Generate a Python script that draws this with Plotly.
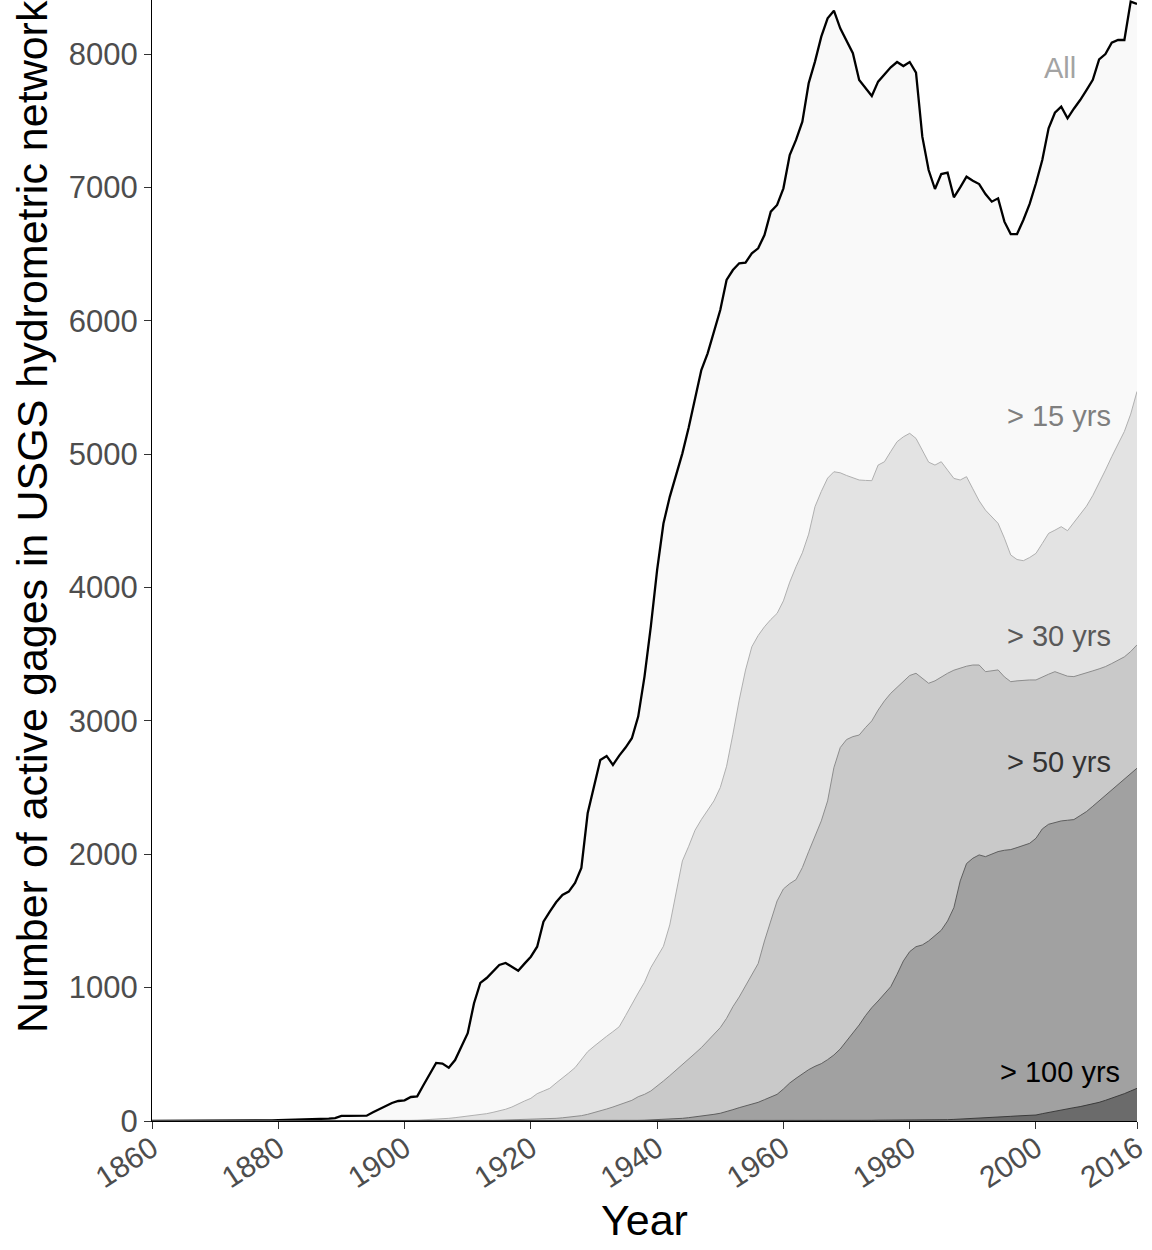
import plotly.graph_objects as go

years = list(range(1860, 2017))

all_gages = [
    0, 0, 0, 0, 0, 1, 1, 1, 1, 1,
    2, 2, 2, 3, 3, 3, 4, 4, 5, 5,
    6, 7, 8, 9, 10, 12, 14, 16, 18, 22,
    38, 38, 40, 40, 40, 65, 90, 115, 135, 150,
    155, 180, 185, 270, 350, 435, 430, 400, 457, 560,
    658, 883, 1035, 1072, 1120, 1170, 1185, 1155, 1127, 1180,
    1232, 1307, 1495, 1570, 1640, 1695, 1720, 1785, 1897, 2307,
    2507, 2707, 2737, 2670, 2740, 2800, 2870, 3032, 3332, 3707,
    4132, 4480, 4680, 4850, 5006, 5200, 5406, 5631, 5756, 5920,
    6081, 6306, 6380, 6431, 6436, 6506, 6543, 6643, 6818, 6868,
    6993, 7243, 7356, 7493, 7781, 7943, 8130, 8268, 8325, 8193,
    8100, 8006, 7806, 7745, 7685, 7793, 7850, 7900, 7940, 7910,
    7940, 7860, 7380, 7130, 6988, 7100, 7110, 6926, 7000, 7080,
    7050, 7025, 6950, 6893, 6918, 6743, 6650, 6650, 6756, 6876,
    7031, 7205, 7443, 7560, 7605, 7518, 7590, 7655, 7730, 7806,
    7960, 8000, 8085, 8105, 8105, 8393, 8375,
]

over_15 = [
    0, 0, 0, 0, 0, 0, 0, 0, 0, 0,
    0, 0, 0, 0, 0, 0, 0, 0, 0, 0,
    0, 0, 0, 0, 0, 0, 0, 0, 0, 0,
    0, 0, 0, 0, 0, 1, 1, 2, 2, 3,
    4, 5, 6, 8, 10, 13, 16, 20, 25, 30,
    35, 40, 45, 55, 65, 75, 88, 105, 130, 150,
    170, 205, 225, 245, 285, 320, 360, 400, 460, 520,
    560, 600, 635, 670, 707, 790, 880, 960, 1040, 1150,
    1230, 1310, 1470, 1700, 1950, 2060, 2180, 2260, 2330, 2400,
    2500, 2660, 2900, 3156, 3381, 3556, 3640, 3706, 3760, 3806,
    3900, 4040, 4156, 4260, 4400, 4606, 4720, 4820, 4868, 4860,
    4840, 4820, 4806, 4803, 4801, 4918, 4943, 5020, 5093, 5130,
    5156, 5118, 5030, 4940, 4918, 4943, 4880, 4818, 4806, 4831,
    4740, 4650, 4580, 4530, 4481, 4370, 4244, 4210, 4201, 4225,
    4256, 4330, 4406, 4430, 4456, 4426, 4490, 4550, 4610, 4690,
    4780, 4880, 4981, 5080, 5170, 5300, 5470,
]

over_30 = [
    0, 0, 0, 0, 0, 0, 0, 0, 0, 0,
    0, 0, 0, 0, 0, 0, 0, 0, 0, 0,
    0, 0, 0, 0, 0, 0, 0, 0, 0, 0,
    0, 0, 0, 0, 0, 0, 0, 0, 0, 0,
    0, 0, 0, 0, 0, 1, 1, 1, 2, 2,
    3, 3, 4, 4, 5, 6, 7, 8, 9, 10,
    12, 14, 16, 18, 20, 24, 28, 32, 40, 50,
    62, 75, 90, 105, 120, 135, 155, 182, 200, 225,
    260, 300, 340, 380, 420, 465, 507, 550, 600, 650,
    700, 770, 857, 930, 1010, 1100, 1180, 1350, 1500, 1650,
    1740, 1780, 1810, 1900, 2020, 2130, 2250, 2400, 2650, 2800,
    2860, 2882, 2894, 2950, 3000, 3081, 3150, 3207, 3250, 3300,
    3340, 3357, 3320, 3282, 3300, 3330, 3357, 3380, 3395, 3410,
    3419, 3419, 3369, 3375, 3382, 3330, 3294, 3300, 3305, 3307,
    3307, 3330, 3350, 3369, 3350, 3335, 3332, 3345, 3360, 3375,
    3390, 3407, 3430, 3455, 3480, 3520, 3570,
]

over_50 = [
    0, 0, 0, 0, 0, 0, 0, 0, 0, 0,
    0, 0, 0, 0, 0, 0, 0, 0, 0, 0,
    0, 0, 0, 0, 0, 0, 0, 0, 0, 0,
    0, 0, 0, 0, 0, 0, 0, 0, 0, 0,
    0, 0, 0, 0, 0, 0, 0, 0, 0, 0,
    0, 0, 0, 0, 0, 0, 0, 0, 0, 0,
    0, 0, 0, 0, 0, 0, 0, 0, 0, 0,
    1, 1, 2, 2, 3, 3, 4, 5, 6, 8,
    9, 11, 13, 16, 20, 25, 30, 36, 42, 50,
    58, 70, 85, 100, 112, 125, 140, 160, 180, 200,
    240, 285, 320, 355, 385, 410, 430, 460, 495, 540,
    600, 660, 720, 790, 850, 900, 950, 1007, 1100, 1200,
    1270, 1307, 1320, 1350, 1390, 1430, 1500, 1600, 1800, 1930,
    1970, 1995, 1982, 2000, 2020, 2030, 2035, 2050, 2065, 2082,
    2120, 2190, 2225, 2240, 2250, 2255, 2260, 2290, 2320, 2360,
    2400, 2440, 2480, 2520, 2560, 2600, 2645,
]

over_100 = [
    0, 0, 0, 0, 0, 0, 0, 0, 0, 0,
    0, 0, 0, 0, 0, 0, 0, 0, 0, 0,
    0, 0, 0, 0, 0, 0, 0, 0, 0, 0,
    0, 0, 0, 0, 0, 0, 0, 0, 0, 0,
    0, 0, 0, 0, 0, 0, 0, 0, 0, 0,
    0, 0, 0, 0, 0, 0, 0, 0, 0, 0,
    0, 0, 0, 0, 0, 0, 0, 0, 0, 0,
    0, 0, 0, 0, 0, 0, 0, 0, 0, 0,
    0, 0, 0, 0, 0, 0, 0, 0, 0, 0,
    0, 0, 0, 0, 0, 0, 0, 0, 0, 0,
    1, 1, 1, 2, 2, 2, 3, 3, 3, 4,
    4, 4, 5, 5, 5, 6, 6, 6, 7, 7,
    7, 7, 8, 8, 8, 9, 10, 12, 14, 16,
    18, 20, 22, 25, 28, 32, 35, 38, 40, 42,
    45, 55, 65, 72, 80, 92, 100, 108, 118, 128,
    140, 155, 170, 185, 205, 225, 245,
]

series_names = ["All", "> 15 yrs", "> 30 yrs", "> 50 yrs", "> 100 yrs"]
series_values = [all_gages, over_15, over_30, over_50, over_100]
fill_colors = ["#F9F9F9", "#E3E3E3", "#C9C9C9", "#A1A1A1", "#6B6B6B"]
line_colors = ["#000000", "#A8A8A8", "#858585", "#555555", "#333333"]
line_widths = [2.3, 0.9, 0.9, 0.9, 0.9]
label_colors = ["#A3A3A3", "#7F7F7F", "#595959", "#333333", "#000000"]
label_y = [7898, 5287, 3637, 2692, 367]
label_x = [2006.6, 2012.2, 2012.2, 2012.2, 2013.6]

x_ticks = [1860, 1880, 1900, 1920, 1940, 1960, 1980, 2000, 2016]
y_ticks = [0, 1000, 2000, 3000, 4000, 5000, 6000, 7000, 8000]

FONT = "Liberation Sans, Arial, sans-serif"

fig = go.Figure()
for name, vals, fc, lc, lw in zip(series_names, series_values, fill_colors, line_colors, line_widths):
    fig.add_trace(go.Scatter(
        x=years, y=vals, mode="lines", name=name,
        fill="tozeroy", fillcolor=fc,
        line=dict(color=lc, width=lw),
        showlegend=False,
    ))

for name, lx, ly, col in zip(series_names, label_x, label_y, label_colors):
    fig.add_annotation(x=lx, y=ly, text=name, showarrow=False,
                       xanchor="right", yanchor="middle",
                       font=dict(family=FONT, size=29, color=col))

fig.add_annotation(xref="paper", yref="paper", x=0.5, y=0, yshift=-99,
                   text="Year", showarrow=False, xanchor="center", yanchor="middle",
                   font=dict(family=FONT, size=43, color="#000000"))
fig.add_annotation(xref="paper", yref="paper", x=0, xshift=-120, y=0.5388,
                   text="Number of active gages in USGS hydrometric network", textangle=-90,
                   showarrow=False, xanchor="center", yanchor="middle",
                   font=dict(family=FONT, size=43, color="#000000"))

y_font = dict(family=FONT, size=31, color="#4D4D4D")
x_font = dict(family=FONT, size=30, color="#4D4D4D")
fig.update_layout(
    width=1152, height=1250,
    margin=dict(l=152, r=15, t=0, b=129),
    paper_bgcolor="white", plot_bgcolor="white",
    xaxis=dict(range=[1860, 2016], tickvals=x_ticks, ticktext=[str(t) for t in x_ticks],
               tickangle=-33, ticks="outside", ticklen=7, tickcolor="#333333", tickwidth=1.2,
               showline=True, linecolor="#000000", linewidth=1.3, showgrid=False, zeroline=False,
               tickfont=x_font, automargin=False, ticklabelstandoff=-10),
    yaxis=dict(range=[0, 8405], tickvals=y_ticks, ticks="outside", ticklen=7,
               tickcolor="#333333", tickwidth=1.2,
               showline=True, linecolor="#000000", linewidth=1.3, showgrid=False, zeroline=False,
               tickfont=y_font, automargin=False),
)

fig.write_html("out.html", config={"displayModeBar": False},
               post_script="document.body.style.margin='0px';document.body.style.overflow='hidden';")
